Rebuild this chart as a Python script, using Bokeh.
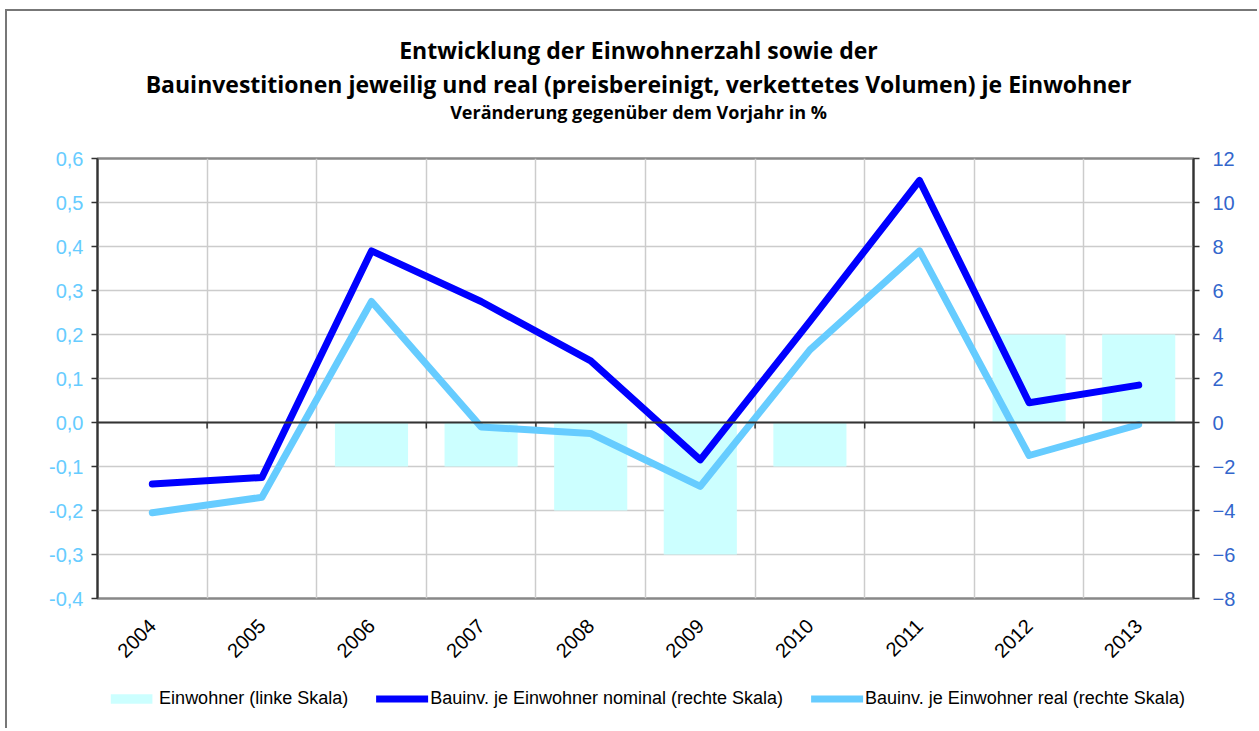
import numpy as np
from bokeh.plotting import figure
from bokeh.layouts import column
from bokeh.models import (Range1d, LinearAxis, FixedTicker, SingleIntervalTicker,
                          CustomJSTickFormatter, Span, Legend, LegendItem, Label)
from bokeh.embed import file_html
from bokeh.resources import INLINE

# ---------------- data ----------------
years = ["2004", "2005", "2006", "2007", "2008", "2009", "2010", "2011", "2012", "2013"]
einwohner = [0.0, 0.0, -0.1, -0.1, -0.2, -0.3, -0.1, 0.0, 0.2, 0.2]          # left scale
bau_nominal = [-2.8, -2.5, 7.8, 5.5, 2.8, -1.7, 4.6, 11.0, 0.9, 1.7]         # right scale
bau_real = [-4.1, -3.4, 5.5, -0.2, -0.5, -2.9, 3.3, 7.8, -1.5, -0.1]         # right scale
left_ticks = [-0.4, -0.3, -0.2, -0.1, 0.0, 0.1, 0.2, 0.3, 0.4, 0.5, 0.6]

title1 = "Entwicklung der Einwohnerzahl sowie der"
title2 = "Bauinvestitionen jeweilig und real (preisbereinigt, verkettetes Volumen) je Einwohner"
title3 = "Veränderung gegenüber dem Vorjahr in %"
labels = ["Einwohner (linke Skala)",
          "Bauinv. je Einwohner nominal (rechte Skala)",
          "Bauinv. je Einwohner real (rechte Skala)"]

# ---------------- style ----------------
FONT = "Liberation Sans"
TFONT = "Open Sans"
W = 1250
C_BAR, C_NOM, C_REAL = "#ccffff", "#0000ff", "#66ccff"
n = len(years)
xc = np.arange(n) + 0.5          # category centres
bounds = np.arange(1, n)          # category boundaries


def blank(h, y_range=(0, 1)):
    f = figure(width=W, height=h, x_range=Range1d(0, 1), y_range=Range1d(*y_range),
               output_backend="svg", toolbar_location=None, min_border=0,
               x_axis_location=None, y_axis_location=None)
    f.outline_line_color = None
    f.grid.visible = False
    f.background_fill_color = "white"
    f.border_fill_color = "white"
    return f


# ---------------- title block (frame is aligned with the chart frame) ----------------
pt = blank(135)
for txt, size, y in [(title1, "23px", 97), (title2, "23px", 63), (title3, "18px", 35)]:
    pt.add_layout(Label(x=541, y=y, x_units="screen", y_units="screen", text=txt,
                        text_align="center", text_baseline="middle",
                        text_font=TFONT, text_font_size=size,
                        text_font_style="bold", text_color="black"))

# ---------------- main chart ----------------
p = figure(width=W, height=522,
           x_range=Range1d(0, n), y_range=Range1d(-0.4, 0.6),
           output_backend="svg", toolbar_location=None,
           min_border_left=90, min_border_right=64,
           min_border_top=12, min_border_bottom=70)
p.background_fill_color = "white"
p.border_fill_color = "white"
p.outline_line_color = "#888888"
p.outline_line_width = 2.5
p.extra_y_ranges = {"right": Range1d(-8, 12)}

p.ygrid.ticker = FixedTicker(ticks=left_ticks)
p.ygrid.grid_line_color = "#cccccc"
p.ygrid.grid_line_width = 1.5
p.xgrid.ticker = FixedTicker(ticks=[float(b) for b in bounds])
p.xgrid.grid_line_color = "#cccccc"
p.xgrid.grid_line_width = 1.5

ya = p.yaxis[0]
ya.ticker = FixedTicker(ticks=left_ticks)
ya.formatter = CustomJSTickFormatter(code="""
  var t = Math.abs(tick) < 1e-9 ? 0 : tick;
  return t.toFixed(1).replace('.', ',');
""")
ya.major_label_text_color = "#66ccff"
ya.major_label_text_font = FONT
ya.major_label_text_font_size = "20px"
ya.axis_line_color = "#333333"
ya.axis_line_width = 2
ya.major_tick_line_color = "#333333"
ya.major_tick_line_width = 1.5
ya.major_tick_out = 6
ya.major_tick_in = 0
ya.minor_tick_line_color = None
ya.major_label_standoff = 8

ra = LinearAxis(y_range_name="right", ticker=SingleIntervalTicker(interval=2))
ra.major_label_text_color = "#3366cc"
ra.major_label_text_font = FONT
ra.major_label_text_font_size = "20px"
ra.axis_line_color = "#333333"
ra.axis_line_width = 2
ra.major_tick_line_color = "#333333"
ra.major_tick_line_width = 1.5
ra.major_tick_out = 6
ra.major_tick_in = 0
ra.minor_tick_line_color = None
ra.major_label_standoff = 13
p.add_layout(ra, "right")

xa = p.xaxis[0]
xa.ticker = FixedTicker(ticks=[float(v) for v in xc])
xa.formatter = CustomJSTickFormatter(args=dict(years=years),
                                     code="return years[Math.floor(tick)];")
xa.major_label_orientation = float(np.pi / 4)
xa.major_label_text_font = FONT
xa.major_label_text_font_size = "20px"
xa.major_label_text_color = "black"
xa.axis_line_color = None
xa.major_tick_line_color = None
xa.minor_tick_line_color = None
xa.major_tick_out = 0
xa.major_label_standoff = 24

p.add_layout(Span(location=0, dimension="width", line_color="#333333", line_width=2))
tick_len = 0.1 / 44 * 6
p.segment(x0=bounds, y0=np.zeros(len(bounds)), x1=bounds,
          y1=np.full(len(bounds), -tick_len), line_color="#333333", line_width=1.5)

p.vbar(x=xc, top=einwohner, bottom=0, width=0.667, fill_color=C_BAR, line_color=None)
p.line(x=xc, y=bau_nominal, y_range_name="right", line_color=C_NOM,
       line_width=7, line_cap="round", line_join="round")
p.line(x=xc, y=bau_real, y_range_name="right", line_color=C_REAL,
       line_width=7, line_cap="round", line_join="round")

# ---------------- legend block ----------------
# same series, lying outside this strip's visible range: only their legend swatches show
pl = blank(60, y_range=(100, 101))
g_bar = pl.vbar(x=xc, top=einwohner, bottom=0, width=0.5, fill_color=C_BAR, line_color=None)
g_nom = pl.line(x=xc, y=bau_nominal, line_color=C_NOM, line_width=7, line_cap="round")
g_real = pl.line(x=xc, y=bau_real, line_color=C_REAL, line_width=7, line_cap="round")
legend = Legend(items=[LegendItem(label=labels[0], renderers=[g_bar]),
                       LegendItem(label=labels[1], renderers=[g_nom]),
                       LegendItem(label=labels[2], renderers=[g_real])],
                orientation="horizontal", location="center",
                border_line_color=None, background_fill_alpha=0,
                label_text_font=FONT, label_text_font_size="18px",
                label_text_color="black",
                glyph_width=52, glyph_height=12, spacing=28, label_standoff=2,
                padding=0, margin=0)
pl.add_layout(legend)

layout = column(pt, p, pl, spacing=0,
                styles={"margin-left": "5px", "margin-top": "9px",
                        "border-left": "2px solid #777777",
                        "border-top": "2px solid #777777"})

open("out.html", "w").write(file_html(layout, INLINE))
